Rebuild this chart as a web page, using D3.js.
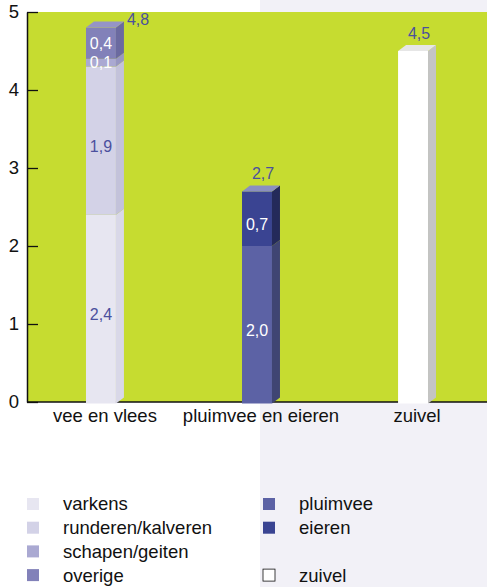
<!DOCTYPE html>
<html>
<head>
<meta charset="utf-8">
<script src="https://cdn.jsdelivr.net/npm/d3@7"></script>
<style>
    body { margin: 0; background: #fff; }
    svg { display: block; font-family: "Liberation Sans", Arial, Helvetica, sans-serif; }
    .tick text { font-size: 18.5px; fill: #111; }
    .domain { stroke: #111; stroke-width: 1.5; }
    .tick line { stroke: #111; stroke-width: 1.3; }
    .legend text { font-size: 18.5px; fill: #111; }
    .val { font-size: 16px; }
</style>
</head>
<body>
<svg></svg>
<script>
// data
const categories = ["vee en vlees", "pluimvee en eieren", "zuivel"]
const seriesNames = ["varkens", "runderen/kalveren", "schapen/geiten", "overige", "pluimvee", "eieren", "zuivel"]
const varkens = [2.4, 0, 0]
const runderen = [1.9, 0, 0]
const schapen = [0.1, 0, 0]
const overige = [0.4, 0, 0]
const pluimvee = [0, 2.0, 0]
const eieren = [0, 0.7, 0]
const zuivel = [0, 0, 4.5]
const yTicks = [0, 1, 2, 3, 4, 5]

const seriesValues = [varkens, runderen, schapen, overige, pluimvee, eieren, zuivel]

const frontColors = ["#e7e6f1", "#d3d2e7", "#aaa9d2", "#8281b9", "#5c62a5", "#3a4492", "#ffffff"]
const sideColors  = ["#d9d8e8", "#c3c2da", "#9897c2", "#6b6aa0", "#3f4573", "#242a5a", "#c4c4c4"]
const topColors   = ["#f0eff7", "#e0dfee", "#b9b8da", "#9594c6", "#8086bd", "#8a8fc0", "#e6e6e6"]
const labelColors = ["#4b509e", "#4b509e", "#ffffff", "#ffffff", "#ffffff", "#ffffff", "#4b509e"]

const table = categories.map((c, i) => {
    const row = { cat: c }
    seriesNames.forEach((s, j) => { row[s] = seriesValues[j][i] })
    return row
})

const stacked = d3.stack().keys(seriesNames)(table)

const W = 487, H = 587
const svg = d3.select("svg").attr("width", W).attr("height", H)

// backgrounds
svg.append("rect").attr("x", 260).attr("y", 0).attr("width", W - 260).attr("height", H).attr("fill", "#f2f1f7")

const pLeft = 27, pRight = 487, pTop = 12, pBottom = 402
const depthX = 8, depthY = 6

svg.append("rect").attr("x", pLeft).attr("y", pTop).attr("width", pRight - pLeft).attr("height", pBottom - pTop).attr("fill", "#c6dc30")

const x = d3.scaleBand()
    .domain(categories)
    .range([pLeft, pRight])
    .paddingInner(0.808)
    .paddingOuter(0.378)

const y = d3.scaleLinear()
    .domain([0, 5])
    .range([pBottom, pTop])

// axes
svg.append("g")
    .attr("transform", `translate(${pLeft},0)`)
    .call(d3.axisLeft(y).tickValues(yTicks).tickFormat(d3.format("d")).tickSizeInner(-11).tickSizeOuter(0).tickPadding(8))

const xAxis = svg.append("g")
    .attr("transform", `translate(0,${pBottom})`)
    .call(d3.axisBottom(x).tickSize(0).tickPadding(7))
xAxis.select(".domain").attr("d", `M${pLeft},0H${pRight}`)
xAxis.selectAll(".tick text").attr("x", depthX / 2)

// bars
const bw = x.bandwidth()
const layers = svg.selectAll("g.layer")
    .data(stacked)
    .enter()
    .append("g")
    .attr("class", "layer")

layers.each(function (layer, li) {
    const g = d3.select(this)
    layer.forEach((d, ci) => {
        if (d[1] - d[0] <= 0) return
        const x0 = x(categories[ci])
        const x1 = x0 + bw
        const yT = y(d[1])
        const yB = d[0] === 0 ? y(0) + 1.5 : y(d[0])
        g.append("rect")
            .attr("x", x0).attr("y", yT)
            .attr("width", bw).attr("height", yB - yT)
            .attr("fill", frontColors[li])
        g.append("path")
            .attr("d", `M${x1},${yT}L${x1 + depthX},${yT - depthY}L${x1 + depthX},${yB - depthY}L${x1},${yB}Z`)
            .attr("fill", sideColors[li])
    })
})

// top faces and totals
categories.forEach((c, ci) => {
    const segs = stacked.filter(s => s[ci][1] - s[ci][0] > 0)
    const last = segs[segs.length - 1]
    const total = last[ci][1]
    const x0 = x(c), x1 = x0 + bw
    const yT = y(total)
    svg.append("path")
        .attr("d", `M${x0},${yT}L${x0 + depthX},${yT - depthY}L${x1 + depthX},${yT - depthY}L${x1},${yT}Z`)
        .attr("fill", topColors[last.index])

    const lbl = d3.format(".1f")(total).replace(".", ",")
    const tooHigh = yT - depthY - 22 < pTop
    svg.append("text")
        .attr("class", "val")
        .attr("x", tooHigh ? x1 + depthX + 3 : x0 + bw / 2 + depthX / 2 + 2)
        .attr("y", tooHigh ? yT - depthY + 3 : yT - depthY - 6)
        .attr("text-anchor", tooHigh ? "start" : "middle")
        .attr("fill", "#4b509e")
        .text(lbl)

    if (segs.length > 1) {
        segs.forEach(s => {
            const d = s[ci]
            const mid = (y(d[0]) + y(d[1])) / 2
            const h = y(d[0]) - y(d[1])
            svg.append("text")
                .attr("class", "val")
                .attr("x", x0 + bw / 2)
                .attr("y", mid + (h > 40 ? 6 : 0))
                .attr("dy", "0.35em")
                .attr("text-anchor", "middle")
                .attr("fill", labelColors[s.index])
                .text(d3.format(".1f")(d[1] - d[0]).replace(".", ","))
        })
    }
})

// legend
const legend = svg.append("g").attr("class", "legend")
seriesNames.forEach((s, i) => {
    const col = i < 4 ? 0 : 1
    const row = i < 4 ? i : (i === 6 ? 3 : i - 4)
    const lx = col === 0 ? 27 : 263
    const ly = 504 + row * 23.7
    legend.append("rect")
        .attr("x", lx).attr("y", ly - 6)
        .attr("width", 12).attr("height", 12)
        .attr("fill", frontColors[i])
        .attr("stroke", i === 6 ? "#111" : "none")
        .attr("stroke-width", 0.8)
    legend.append("text")
        .attr("x", lx + 36).attr("y", ly)
        .attr("dy", "0.35em")
        .text(s)
})
</script>
</body>
</html>
